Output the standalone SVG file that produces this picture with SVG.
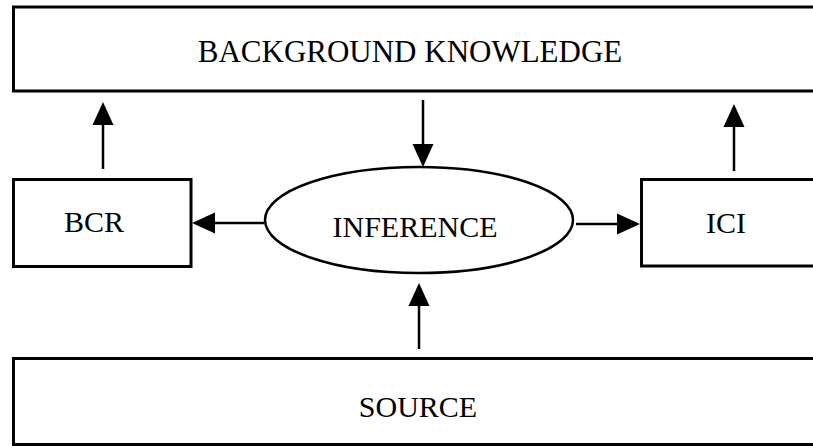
<svg xmlns="http://www.w3.org/2000/svg" width="813" height="446" viewBox="0 0 813 446">
  <style>
    .box { fill: #ffffff; stroke: #000000; stroke-width: 3; }
    .ell { fill: #ffffff; stroke: #000000; stroke-width: 2.5; }
    .lbl { font-family: "Liberation Serif", "Times New Roman", serif; font-size: 30px; fill: #000000; text-anchor: middle; }
    .conn { fill: none; stroke: #000000; stroke-width: 2.5; marker-end: url(#arrow); }
  </style>
  <defs>
    <marker id="arrow" markerUnits="userSpaceOnUse" markerWidth="24" markerHeight="22" refX="0" refY="10.5" orient="auto" overflow="visible">
      <path d="M0,0 L23,10.5 L0,21 Z" fill="#000000"/>
    </marker>
  </defs>
  <rect width="813" height="446" fill="#ffffff"/>

  <g id="background-knowledge">
    <rect class="box" x="13.5" y="7" width="820" height="84"/>
    <text class="lbl" x="410" y="62" style="font-size:31px">BACKGROUND KNOWLEDGE</text>
  </g>

  <g id="bcr">
    <rect class="box" x="13.5" y="179.5" width="177.5" height="87"/>
    <text class="lbl" x="94" y="232">BCR</text>
  </g>

  <g id="inference">
    <ellipse class="ell" cx="419" cy="220" rx="154" ry="53"/>
    <text class="lbl" x="415" y="237">INFERENCE</text>
  </g>

  <g id="ici">
    <rect class="box" x="641.5" y="179.5" width="200" height="86.5"/>
    <text class="lbl" x="726" y="233">ICI</text>
  </g>

  <g id="source">
    <rect class="box" x="13.5" y="358.5" width="820" height="86"/>
    <text class="lbl" x="418" y="417">SOURCE</text>
  </g>

  <g id="connectors">
    <path class="conn" d="M103,169 L103,125"/>
    <path class="conn" d="M734,171 L734,127"/>
    <path class="conn" d="M423,100 L423,144"/>
    <path class="conn" d="M264,223 L215,223"/>
    <path class="conn" d="M576,224 L617,224"/>
    <path class="conn" d="M419,349 L419,306"/>
  </g>
</svg>
